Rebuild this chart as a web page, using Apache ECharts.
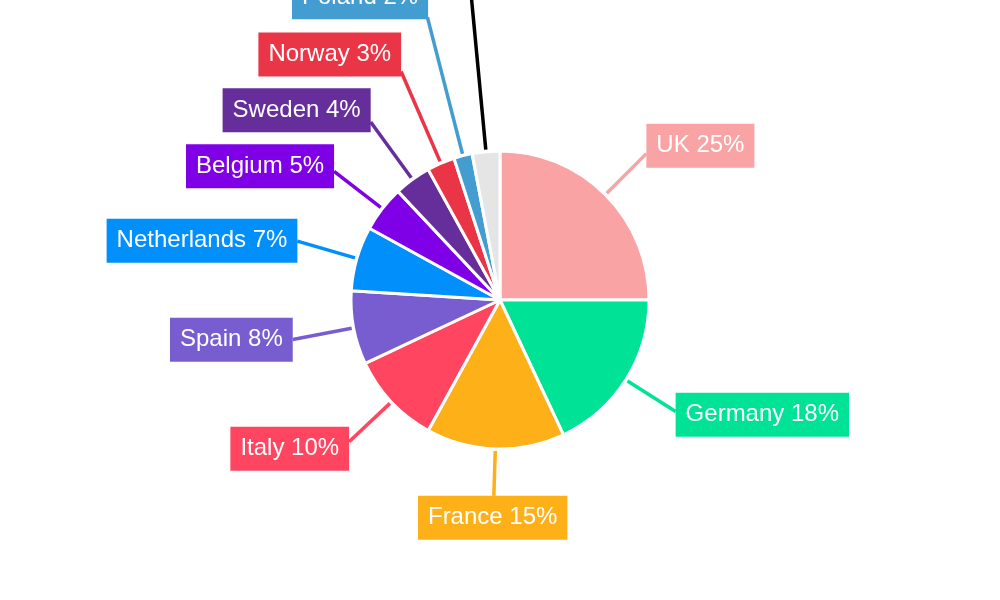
<!DOCTYPE html>
<html>
<head>
<meta charset="utf-8">
<script src="https://cdn.jsdelivr.net/npm/echarts@6/dist/echarts.min.js"></script>
<style>
  html, body { margin: 0; padding: 0; background: #fff; }
  #main { width: 1000px; height: 600px; }
</style>
</head>
<body>
<div id="main"></div>
<script>
// 各国占比
var countries = ['UK', 'Germany', 'France', 'Italy', 'Spain', 'Netherlands', 'Belgium', 'Sweden', 'Norway', 'Poland', 'Other'];
var shares = [25, 18, 15, 10, 8, 7, 5, 4, 3, 2, 3];

// 样式
var colors = ['#F9A3A4', '#00E396', '#FEB019', '#FF4560', '#775DD0', '#008FFB', '#7F00E6', '#662E9B', '#EA3546', '#449DD1', '#E5E5E5'];
var lineColors = colors.slice(0, 10).concat(['#000000']);
var lineLengths = [58, 59, 47, 58, 62, 62, 61, 71, 100, 143, 200]; // 引导线长度(px)

(function(){
  var myChart = echarts.init(document.getElementById('main'));

  var data = countries.map(function (name, i) {
    return {
      name: name,
      value: shares[i],
      itemStyle: { color: colors[i] },
      label: { backgroundColor: colors[i] },
      labelLine: { length: lineLengths[i], lineStyle: { color: lineColors[i] } }
    };
  });

  // 标签沿径向放置，标签框贴着引导线末端
  function placeLabel(params) {
    var pts = params.labelLinePoints;
    if (!pts) return;
    var p0 = pts[0], a = pts[1];
    var dx = a[0] - p0[0], dy = a[1] - p0[1];
    var len = Math.sqrt(dx * dx + dy * dy) || 1;
    dx /= len; dy /= len;
    var w = params.labelRect.width, h = params.labelRect.height;
    var fx = Math.sign(dx) * Math.min(1, Math.pow(Math.abs(dx) / 0.25, 2));
    var fy = Math.sign(dy) * Math.pow(Math.abs(dy), 3);
    return {
      x: a[0] + fx * w / 2,
      y: a[1] + fy * h / 2,
      align: 'center',
      verticalAlign: 'middle',
      labelLinePoints: [[p0[0] + dx * 2, p0[1] + dy * 2], [a[0], a[1]]]
    };
  }

  var option = {
    animation: false,
    series: [{
      type: 'pie',
      center: [500, 300],
      radius: 149,
      startAngle: 90,
      clockwise: true,
      avoidLabelOverlap: false,
      itemStyle: {
        borderColor: '#fff',
        borderWidth: 3
      },
      label: {
        show: true,
        formatter: '{b} {c}%',
        color: '#fff',
        fontFamily: 'Liberation Sans, Arial, sans-serif',
        fontSize: 24,
        lineHeight: 24,
        padding: [10, 10]
      },
      labelLine: {
        show: true,
        length2: 0,
        lineStyle: { width: 3.5 }
      },
      labelLayout: placeLabel,
      data: data
    }]
  };

  myChart.setOption(option);
})();
</script>
</body>
</html>
